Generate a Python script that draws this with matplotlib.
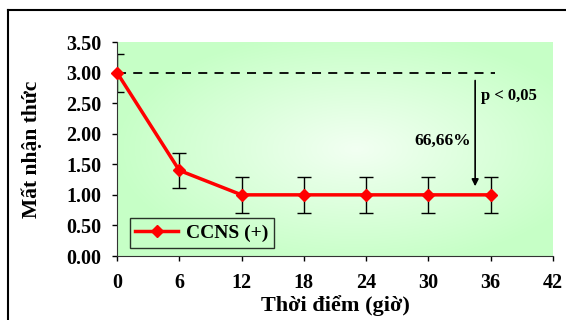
import matplotlib

matplotlib.use("Agg")
import matplotlib.pyplot as plt
import numpy as np
from matplotlib.lines import Line2D

plt.rcParams["font.family"] = ["Liberation Serif", "DejaVu Serif"]
plt.rcParams["font.weight"] = "bold"

hours = [0, 6, 12, 18, 24, 30, 36]
ccns = [3.0, 1.4, 1.0, 1.0, 1.0, 1.0, 1.0]
ccns_err = [0.31, 0.28, 0.29, 0.29, 0.29, 0.29, 0.29]
x_ticks = [0, 6, 12, 18, 24, 30, 36, 42]
y_ticks = [0.0, 0.5, 1.0, 1.5, 2.0, 2.5, 3.0, 3.5]

fig = plt.figure(figsize=(5.66, 3.2), dpi=100)
ax = fig.add_axes([117 / 566, 64 / 320, 436 / 566, 214 / 320])

# radial green gradient background
gx, gy = np.meshgrid(np.linspace(-1, 1, 300), np.linspace(-1, 1, 200))
r = np.clip(np.sqrt((gx - 0.1) ** 2 + gy ** 2) / 1.1, 0, 1)
edge = np.array([0.78, 1.0, 0.78])
centre = np.array([0.95, 1.0, 0.95])
img = centre[None, None, :] * (1 - r[..., None]) + edge[None, None, :] * r[..., None]
ax.imshow(img, extent=[0, 42, 0, 3.5], aspect="auto", zorder=0)

ax.errorbar(hours, ccns, yerr=ccns_err, fmt="none", ecolor="black",
            elinewidth=1, capsize=5, capthick=1, zorder=2)
ax.plot(hours, ccns, color="#ff0000", lw=2.5, marker="D", ms=6,
        zorder=3, clip_on=False)

ax.plot([0, 36.4], [3.0, 3.0], color="black", ls=(0, (5, 4)), lw=1.3, zorder=1)
ax.annotate("", xy=(34.5, 1.14), xytext=(34.5, 2.87),
            arrowprops=dict(arrowstyle="-|>", color="black", lw=1.2,
                            mutation_scale=10, shrinkA=0, shrinkB=0))
ax.text(35.1, 2.62, "p < 0,05", fontsize=12, fontweight="bold", va="center")
ax.text(34.1, 1.88, "66,66%", fontsize=12.5, fontweight="bold",
        va="center", ha="right")

ax.set_xlim(0, 42)
ax.set_ylim(0, 3.5)
ax.set_xticks(x_ticks)
ax.set_yticks(y_ticks)
ax.set_yticklabels([f"{v:.2f}" for v in y_ticks])
ax.tick_params(labelsize=14.5, length=3.5, width=1, direction="out")
ax.tick_params(axis="x", pad=9)
ax.tick_params(axis="y", pad=8)
for s in ["top", "right"]:
    ax.spines[s].set_visible(False)
for s in ["left", "bottom"]:
    ax.spines[s].set_color("#333333")

ax.set_xlabel("Thời điểm (giờ)", fontsize=16, fontweight="bold", labelpad=1)
ax.set_ylabel("Mất nhận thức", fontsize=15.5, fontweight="bold", labelpad=17)

handle = Line2D([], [], color="#ff0000", lw=2.5, marker="D", ms=6)
leg = ax.legend([handle], ["CCNS (+)"], loc="lower left",
                bbox_to_anchor=(0.02, 0.02), fontsize=14, frameon=True,
                fancybox=False, edgecolor="black", facecolor="none",
                handlelength=2.2, handletextpad=0.4, borderpad=0.3,
                borderaxespad=0.2)
leg.get_frame().set_linewidth(1)

# outer frame (top and left edges visible)
fig.add_artist(Line2D([8 / 566, 8 / 566], [0, 1 - 10 / 320], color="black",
                      lw=1.5, transform=fig.transFigure))
fig.add_artist(Line2D([8 / 566, 1], [1 - 10 / 320, 1 - 10 / 320],
                      color="black", lw=1.5, transform=fig.transFigure))

fig.savefig("out.png", dpi=100)
